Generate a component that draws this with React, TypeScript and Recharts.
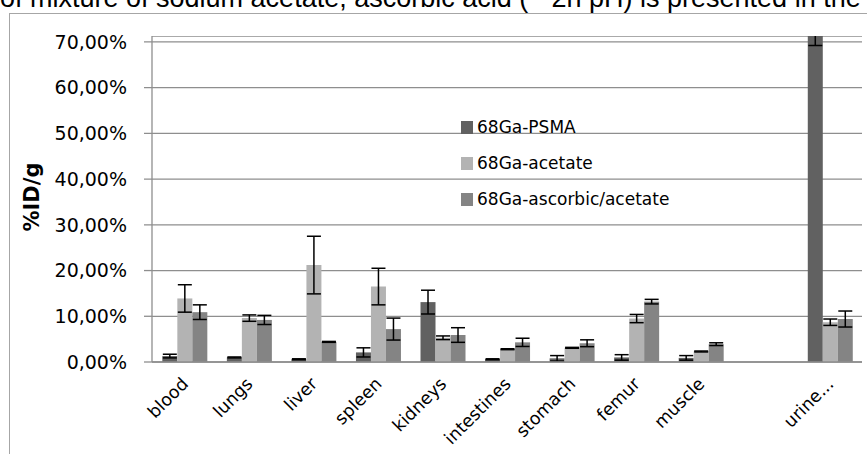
import React from 'react';
import { BarChart, Bar, XAxis, YAxis, CartesianGrid, ErrorBar } from 'recharts';

const categories = ['blood', 'lungs', 'liver', 'spleen', 'kidneys', 'intestines', 'stomach', 'femur', 'muscle', '', 'urine...'];
const psma = [1.3, 1.0, 0.6, 2.1, 13.1, 0.6, 0.8, 1.0, 0.9, null, 72.5];
const psmaErr = [0.4, 0.1, 0.1, 1.0, 2.6, 0.1, 0.6, 0.6, 0.5, null, 3.3];
const acetate = [13.9, 9.6, 21.2, 16.5, 5.3, 2.8, 3.1, 9.5, 2.3, null, 8.7];
const acetateErr = [3.0, 0.7, 6.3, 4.0, 0.4, 0.1, 0.1, 0.9, 0.1, null, 0.7];
const ascorbic = [10.9, 9.2, 4.4, 7.2, 5.9, 4.3, 4.1, 13.2, 3.9, null, 9.4];
const ascorbicErr = [1.6, 1.0, 0.1, 2.4, 1.6, 0.9, 0.75, 0.5, 0.3, null, 1.75];
const yTicks = [0, 10, 20, 30, 40, 50, 60, 70];
const seriesNames = ['68Ga-PSMA', '68Ga-acetate', '68Ga-ascorbic/acetate'];
const seriesColors = ['#616161', '#b3b3b3', '#848484'];
const headerText = 'of mixture of sodium acetate, ascorbic acid (~ 2h pH) is presented in the';

const data = categories.map((c, i) => ({
  name: c,
  psma: psma[i],
  psmaErr: psmaErr[i],
  acetate: acetate[i],
  acetateErr: acetateErr[i],
  ascorbic: ascorbic[i],
  ascorbicErr: ascorbicErr[i],
}));
const boundaryTicks = categories.map((_, i) => i).concat([categories.length]);

const FONT = '"DejaVu Sans", sans-serif';
const GRID = '#8e8e8e';
const CHART_W = 867;
const CHART_H = 454;
const M_TOP = 36;
const Y_W = 152;

const fmt = (v: number) => v.toFixed(2).replace('.', ',') + '%';

const XTick = (props: any) => {
  const { x, y, payload } = props;
  const ax = x + 5;
  const ay = y + 15;
  return (
    <text
      x={ax}
      y={ay}
      transform={`rotate(-45, ${ax}, ${ay})`}
      textAnchor="end"
      fontFamily={FONT}
      fontSize={17.5}
      fill="#000"
    >
      {payload.value}
    </text>
  );
};

const YLabel = () => (
  <text
    transform="translate(32,197) rotate(-90)"
    textAnchor="middle"
    dominantBaseline="central"
    fontFamily={FONT}
    fontWeight="bold"
    fontSize={21}
    fill="#000"
  >
    %ID/g
  </text>
);

export default function App() {
  return (
    <div style={{ position: 'absolute', left: 0, top: 0, width: CHART_W, height: CHART_H, overflow: 'hidden', background: '#fff' }}>
      <div
        style={{
          position: 'absolute',
          left: 0,
          top: -15,
          whiteSpace: 'nowrap',
          fontFamily: '"Liberation Sans", Arial, sans-serif',
          fontSize: 27,
          lineHeight: '27px',
          color: '#000',
        }}
      >
        {headerText}
      </div>
      <div
        style={{
          position: 'absolute',
          left: 9,
          top: 13,
          width: 900,
          height: 500,
          borderTop: '1.5px solid #a6a6a6',
          borderLeft: '1.5px solid #a6a6a6',
        }}
      />
      <div
        style={{
          position: 'absolute',
          left: 0,
          top: 0,
          clipPath: `polygon(0 0, ${Y_W}px 0, ${Y_W}px ${M_TOP}px, 100% ${M_TOP}px, 100% 100%, 0 100%)`,
        }}
      >
        <BarChart
          width={CHART_W}
          height={CHART_H}
          data={data}
          margin={{ top: M_TOP, right: 5, bottom: 0, left: 0 }}
          barCategoryGap="16%"
          barGap={0}
        >
          <CartesianGrid horizontal vertical={false} stroke={GRID} strokeWidth={1.3} yAxisId="y" xAxisId="cat" />
          <XAxis
            xAxisId="bound"
            type="number"
            domain={[0, categories.length]}
            ticks={boundaryTicks}
            tick={false}
            axisLine={false}
            tickLine={{ stroke: GRID, strokeWidth: 1.3 }}
            tickSize={6}
            height={0}
          />
          <XAxis
            xAxisId="cat"
            dataKey="name"
            interval={0}
            tick={<XTick />}
            tickLine={false}
            axisLine={{ stroke: GRID, strokeWidth: 1.3 }}
            height={92}
          />
          <YAxis
            yAxisId="y"
            width={Y_W}
            domain={[0, 71.3]}
            allowDataOverflow
            ticks={yTicks}
            tickFormatter={fmt}
            tickSize={8}
            tickMargin={17}
            tickLine={{ stroke: GRID, strokeWidth: 1.3 }}
            axisLine={{ stroke: GRID, strokeWidth: 1.3 }}
            tick={{ fontFamily: FONT, fontSize: 19, fill: '#000' }}
            label={<YLabel />}
          />
          <Bar dataKey="psma" name={seriesNames[0]} fill={seriesColors[0]} xAxisId="cat" yAxisId="y" isAnimationActive={false}>
            <ErrorBar dataKey="psmaErr" width={7} stroke="#000" strokeWidth={1.5} direction="y" />
          </Bar>
          <Bar dataKey="acetate" name={seriesNames[1]} fill={seriesColors[1]} xAxisId="cat" yAxisId="y" isAnimationActive={false}>
            <ErrorBar dataKey="acetateErr" width={7} stroke="#000" strokeWidth={1.5} direction="y" />
          </Bar>
          <Bar dataKey="ascorbic" name={seriesNames[2]} fill={seriesColors[2]} xAxisId="cat" yAxisId="y" isAnimationActive={false}>
            <ErrorBar dataKey="ascorbicErr" width={7} stroke="#000" strokeWidth={1.5} direction="y" />
          </Bar>
        </BarChart>
      </div>
      <div style={{ position: 'absolute', left: 461, top: 109, fontFamily: FONT, fontSize: 17, color: '#000' }}>
        {seriesNames.map((n, i) => (
          <div key={n} style={{ height: 36, display: 'flex', alignItems: 'center', whiteSpace: 'nowrap' }}>
            <span style={{ display: 'inline-block', width: 12, height: 13, background: seriesColors[i], marginRight: 4 }} />
            <span>{n}</span>
          </div>
        ))}
      </div>
    </div>
  );
}
